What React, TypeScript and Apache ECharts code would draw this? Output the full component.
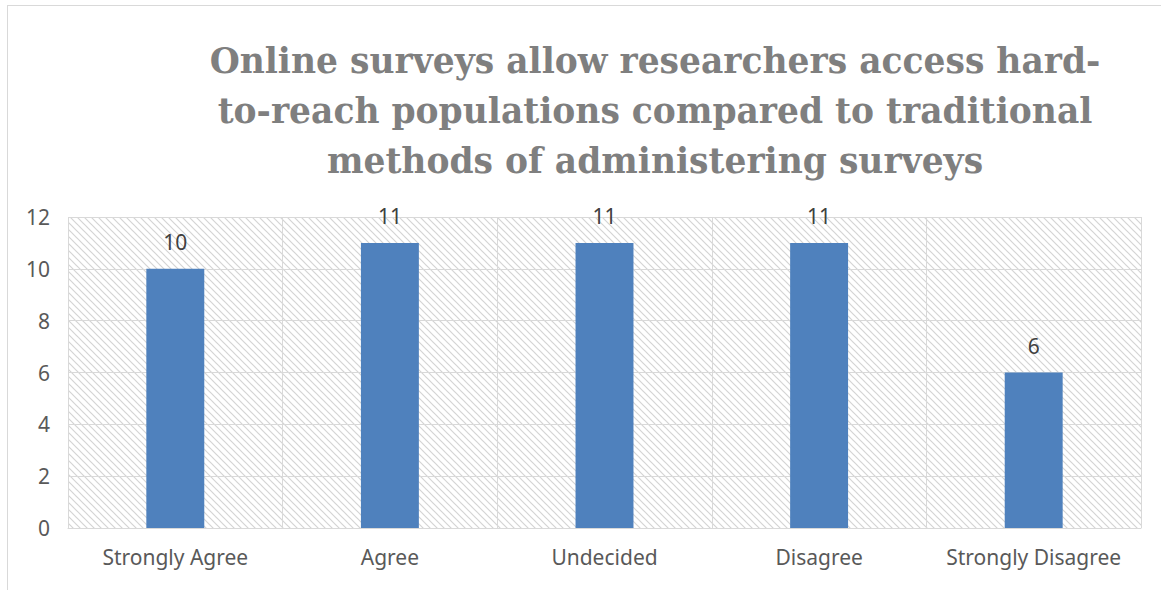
import React, { useEffect, useRef } from "react";
import * as echarts from "echarts";

const categories = ["Strongly Agree", "Agree", "Undecided", "Disagree", "Strongly Disagree"];
const responses = [10, 11, 11, 11, 6];
const titleLines = [
  "Online surveys allow researchers access hard-",
  "to-reach populations compared to traditional",
  "methods of administering surveys",
];

// Diagonal hatch tile used to fill the plot area.
function makeHatch(): HTMLCanvasElement {
  const s = 7;
  const c = document.createElement("canvas");
  c.width = s;
  c.height = s;
  const ctx = c.getContext("2d")!;
  ctx.fillStyle = "#ffffff";
  ctx.fillRect(0, 0, s, s);
  ctx.strokeStyle = "#d4d4d4";
  ctx.lineWidth = 1.2;
  for (const k of [-s, 0, s]) {
    ctx.beginPath();
    ctx.moveTo(-1, -1 + k);
    ctx.lineTo(s + 1, s + 1 + k);
    ctx.stroke();
  }
  return c;
}

export default function App() {
  const ref = useRef<HTMLDivElement>(null);

  useEffect(() => {
    document.body.style.margin = "0";
    const chart = echarts.init(ref.current!, undefined, { renderer: "svg" });
    const labelFont = "'Noto Sans', sans-serif";
    chart.setOption({
      animation: false,
      backgroundColor: "#ffffff",
      title: {
        text: titleLines.join("\n"),
        left: 650,
        top: 31,
        textAlign: "center",
        textStyle: {
          fontFamily: "'DejaVu Serif', serif",
          fontWeight: "bold",
          fontSize: 34.5,
          lineHeight: 50,
          color: "#7f7f7f",
        },
      },
      graphic: [
        { type: "line", shape: { x1: 7, y1: 5.5, x2: 1161, y2: 5.5 }, style: { stroke: "#d9d9d9", lineWidth: 1 } },
        { type: "line", shape: { x1: 7.5, y1: 5, x2: 7.5, y2: 590 }, style: { stroke: "#d9d9d9", lineWidth: 1 } },
      ],
      grid: {
        left: 68,
        right: 20,
        top: 217,
        bottom: 62,
        show: true,
        borderWidth: 0,
        backgroundColor: { image: makeHatch(), repeat: "repeat" },
      },
      xAxis: {
        type: "category",
        data: categories,
        axisLine: { show: true, lineStyle: { color: "#d9d9d9", width: 1 } },
        axisTick: { show: false },
        splitLine: { show: true, interval: 0, lineStyle: { color: "#d9d9d9", width: 1 } },
        axisLabel: { interval: 0, color: "#595959", fontFamily: labelFont, fontSize: 21, margin: 18 },
      },
      yAxis: {
        type: "value",
        min: 0,
        max: 12,
        interval: 2,
        axisLine: { show: false },
        axisTick: { show: false },
        splitLine: { show: true, lineStyle: { color: "#d9d9d9", width: 1 } },
        axisLabel: { color: "#595959", fontFamily: labelFont, fontSize: 21, margin: 18 },
      },
      series: [
        {
          type: "bar",
          data: responses,
          barWidth: "27%",
          itemStyle: { color: "#4f81bd" },
          label: {
            show: true,
            position: "top",
            distance: 16,
            color: "#404040",
            fontFamily: labelFont,
            fontSize: 21,
          },
        },
      ],
    });
    return () => chart.dispose();
  }, []);

  return <div ref={ref} style={{ width: 1161, height: 590 }} />;
}
